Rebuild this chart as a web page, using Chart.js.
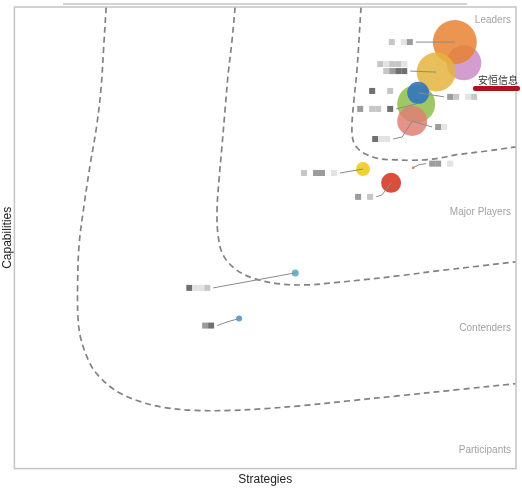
<!DOCTYPE html>
<html>
<head>
<meta charset="utf-8">
<script src="https://cdn.jsdelivr.net/npm/chart.js@4.4.0/dist/chart.umd.min.js"></script>
<style>
html, body { margin: 0; padding: 0; background: #fff; }
#wrap { width: 522px; height: 488px; }
</style>
</head>
<body>
<div id="wrap"><canvas id="matrix"></canvas></div>
<script>
//1) DATA//
// vendor names are masked in the source picture, only the size / position is kept
var vendorX = [89.6, 87.8, 84.1, 80.1, 79.3, 80.5, 69.5, 75.1, 79.5, 56.0, 44.8];
var vendorY = [87.9, 92.4, 85.9, 79.0, 75.3, 81.4, 64.9, 61.9, 65.2, 42.4, 32.5];
var vendorSize = [17.5, 22, 19.5, 19, 15, 11, 7, 10, 1.5, 3.5, 3];
var vendorColors = [
   'rgba(204,140,200,0.85)',
   'rgba(232,130,50,0.85)',
   'rgba(228,180,62,0.85)',
   'rgba(140,190,72,0.85)',
   'rgba(224,128,118,0.85)',
   'rgba(52,118,190,0.9)',
   'rgba(242,204,44,0.95)',
   'rgba(216,70,48,0.95)',
   'rgba(200,150,90,0.9)',
   'rgba(98,176,204,0.95)',
   'rgba(90,155,214,0.95)'
];

// dashed band borders (strategies, capabilities)
var band1X = [18.3, 17.8, 17.3, 16.4, 15.1, 13.9, 12.9, 12.6, 12.7, 13.3, 15.1, 17.1, 20.5, 25.1, 30.1, 36.1, 43.0, 50.0, 57.0, 66.9, 76.9, 88.4, 100];
var band1Y = [100, 91.3, 82.7, 74.2, 65.8, 57.1, 48.5, 39.8, 32.3, 27.9, 22.7, 19.7, 16.7, 14.5, 13.2, 12.6, 12.6, 13.0, 13.6, 14.7, 15.8, 17.1, 18.4];
var band2X = [44.0, 43.4, 42.6, 42.0, 41.4, 40.8, 40.4, 40.6, 41.6, 44.2, 48.0, 53.0, 58.4, 63.9, 69.5, 76.9, 84.9, 92.8, 100];
var band2Y = [100, 92.9, 85.3, 77.7, 70.1, 62.6, 56.1, 50.6, 46.3, 43.1, 41.1, 40.0, 39.8, 40.3, 40.9, 41.8, 42.9, 43.9, 44.8];
var band3X = [69.1, 68.7, 68.3, 67.7, 67.3, 67.5, 68.5, 70.3, 72.9, 75.9, 78.9, 81.9, 84.9, 88.2, 94.2, 100];
var band3Y = [100, 92.9, 86.4, 79.9, 74.5, 71.2, 69.3, 68.0, 67.1, 66.9, 66.8, 66.9, 67.3, 68.0, 68.8, 69.7];

var quadrantNames = ['Leaders', 'Major Players', 'Contenders', 'Participants'];
var quadrantY = [97.2, 55.6, 30.5, 3.9];

var highlightName = '安恒信息';

// masked labels: point index, leader path (px offsets), rows of mosaic cells
var vendorLabels = [
   { pt: 1, path: [[-39, 0]], rows: [[0, '- .+']] },
   { pt: 2, path: [[-26, -1]], rows: [[-7, '-.--.'], [0, '-+##']] },
   { pt: 3, path: [[-20, 5]], rows: [[-18, '#  -'], [0, '+ -- #']] },
   { pt: 5, path: [[26, 4]], rows: [[0, '+- .-']] },
   { pt: 4, path: [[20, 6]], rows: [[0, '+.']] },
   { pt: 4, path: [[-10, 16], [-19, 18]], rows: [[0, '#..']] },
   { pt: 6, path: [[-23, 4]], rows: [[0, '- ++ .']] },
   { pt: 7, path: [[-9, 12], [-15, 14]], rows: [[0, '+ -']] },
   { pt: 8, path: [[6, -3], [13, -4]], rows: [[0, '++ .']] },
   { pt: 9, path: [[-82, 15]], rows: [[0, '#..-']] },
   { pt: 10, path: [[-11, 3], [-22, 7]], rows: [[0, '+#']] }
];
var cellShade = { '#': '#707070', '+': '#9c9c9c', '-': '#c6c6c6', '.': '#e3e3e3' };

function toPoints(xs, ys) {
   return xs.map((x, i) => ({ x: x, y: ys[i] }));
}
function bandDataset(xs, ys) {
   return {
      type: 'line',
      data: toPoints(xs, ys),
      borderColor: '#828282',
      borderWidth: 1.7,
      borderDash: [6, 4],
      pointRadius: 0,
      tension: 0.35,
      fill: false
   };
}

//2) PLUGIN FOR FRAME AND LABELS//
var matrixDecor = {
   id: 'matrixDecor',
   afterDatasetsDraw(chart) {
      const ctx = chart.ctx;
      const xs = chart.scales.x, ys = chart.scales.y;

      // leader lines + masked names
      vendorLabels.forEach(lab => {
         const cx = xs.getPixelForValue(vendorX[lab.pt]);
         const cy = ys.getPixelForValue(vendorY[lab.pt]);
         ctx.save();
         ctx.strokeStyle = '#8a8a8a';
         ctx.lineWidth = 1;
         ctx.beginPath();
         ctx.moveTo(cx, cy);
         lab.path.forEach(p => ctx.lineTo(cx + p[0], cy + p[1]));
         ctx.stroke();
         const end = lab.path[lab.path.length - 1];
         const ex = cx + end[0], ey = cy + end[1];
         const left = end[0] < 0;
         lab.rows.forEach(row => {
            const cells = row[1];
            const x0 = left ? ex - 3 - cells.length * 6 : ex + 3;
            for (let i = 0; i < cells.length; i++) {
               const c = cells[i];
               if (c === ' ') continue;
               ctx.fillStyle = cellShade[c];
               ctx.fillRect(x0 + i * 6, ey + row[0] - 3, 6, 6);
            }
         });
         ctx.restore();
      });
   },
   afterDraw(chart) {
      const ctx = chart.ctx;
      const ys = chart.scales.y;
      const area = chart.chartArea;
      ctx.save();
      // plot frame
      ctx.strokeStyle = '#c4c4c4';
      ctx.lineWidth = 1.5;
      ctx.strokeRect(area.left, area.top, area.right - area.left, area.bottom - area.top);
      ctx.beginPath();
      ctx.moveTo(63, 4);
      ctx.lineTo(467, 4);
      ctx.stroke();

      // quadrant names
      ctx.fillStyle = '#a3a3a3';
      ctx.font = '10px "Liberation Sans", Arial, sans-serif';
      ctx.textAlign = 'right';
      ctx.textBaseline = 'middle';
      quadrantNames.forEach((name, i) => {
         ctx.fillText(name, area.right - 5, ys.getPixelForValue(quadrantY[i]));
      });

      // highlighted vendor
      ctx.fillStyle = '#333';
      ctx.font = '10px "Noto Sans CJK SC", sans-serif';
      ctx.textAlign = 'left';
      ctx.fillText(highlightName, area.right - 38, 80);
      ctx.fillStyle = '#b0131c';
      ctx.beginPath();
      ctx.roundRect(area.right - 43, 86, 47, 5, 2);
      ctx.fill();
      ctx.restore();
   }
};

//3) CHART//
const ctx_matrix = document.getElementById('matrix').getContext('2d');
const matrixChart = new Chart(ctx_matrix, {
   type: 'bubble',
   data: {
      datasets: [{
         data: vendorX.map((x, i) => ({ x: x, y: vendorY[i], r: vendorSize[i] })),
         backgroundColor: vendorColors,
         borderWidth: 0,
         hoverBorderWidth: 0
      },
      bandDataset(band1X, band1Y),
      bandDataset(band2X, band2Y),
      bandDataset(band3X, band3Y)]
   },
   options: {
      responsive: true,
      maintainAspectRatio: false,
      animation: false,
      layout: {
         autoPadding: false,
         padding: { top: 7, right: 6, bottom: 1, left: 0 }
      },
      scales: {
         x: {
            type: 'linear',
            min: 0,
            max: 100,
            ticks: { display: false },
            grid: { display: false, drawTicks: false },
            border: { display: false },
            title: {
               display: true,
               text: 'Strategies',
               color: '#222',
               font: { family: '"Liberation Sans", Arial, sans-serif', size: 12 },
               padding: { top: 4, bottom: 0 }
            }
         },
         y: {
            type: 'linear',
            min: 0,
            max: 100,
            ticks: { display: false },
            grid: { display: false, drawTicks: false },
            border: { display: false },
            title: {
               display: true,
               text: 'Capabilities',
               color: '#222',
               font: { family: '"Liberation Sans", Arial, sans-serif', size: 12 },
               padding: { top: 0, bottom: 0 }
            }
         }
      },
      plugins: {
         legend: { display: false },
         tooltip: { enabled: false }
      }
   },
   plugins: [matrixDecor]
});
</script>
</body>
</html>
